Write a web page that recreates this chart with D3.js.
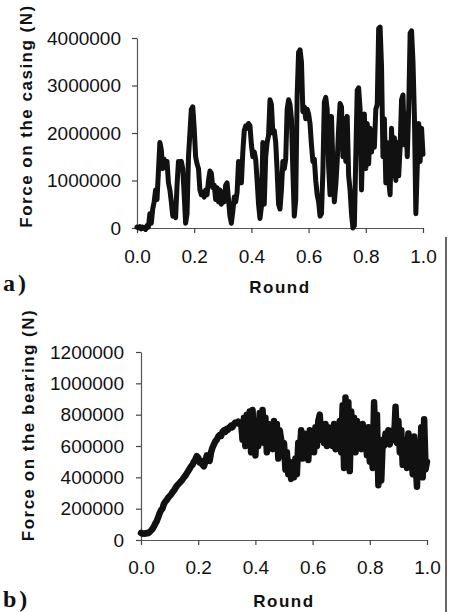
<!DOCTYPE html>
<html><head><meta charset="utf-8">
<script src="https://cdn.jsdelivr.net/npm/d3@7/dist/d3.min.js"></script>
<style>
body{margin:0;background:#fff;}
svg{display:block;}
.tick text{font-family:"Liberation Sans",Arial,sans-serif;font-size:19px;fill:#111;}
.title{font-family:"Liberation Sans",Arial,sans-serif;font-weight:bold;font-size:17px;fill:#111;letter-spacing:1.5px;}
.panel{font-family:"Liberation Serif","Times New Roman",serif;font-weight:bold;font-size:24px;fill:#111;letter-spacing:3px;}
</style></head>
<body><svg id="c" width="454" height="612"></svg>
<script>
const rounds = d3.range(201).map(i => i / 200);
const casingForce = [
 0.02e6,0.00e6,0.03e6,-0.02e6,0.02e6,0.00e6,-0.03e6,0.05e6,0.02e6,0.30e6,
 0.10e6,0.40e6,0.55e6,0.80e6,0.60e6,1.20e6,1.80e6,1.65e6,1.25e6,1.45e6,
 1.30e6,1.40e6,0.95e6,0.80e6,0.55e6,0.25e6,0.30e6,0.22e6,0.90e6,1.40e6,
 1.35e6,1.40e6,1.25e6,0.70e6,0.10e6,0.30e6,1.50e6,2.00e6,2.50e6,2.55e6,
 2.10e6,1.50e6,1.35e6,1.25e6,0.80e6,0.70e6,0.75e6,0.65e6,0.80e6,0.70e6,
 1.00e6,1.20e6,1.15e6,0.85e6,0.90e6,0.60e6,0.85e6,0.55e6,0.80e6,0.50e6,
 0.75e6,0.55e6,0.90e6,0.95e6,0.60e6,0.25e6,0.10e6,0.35e6,0.65e6,0.55e6,
 0.75e6,1.40e6,1.20e6,0.95e6,1.60e6,2.05e6,2.15e6,2.10e6,2.20e6,2.15e6,
 1.75e6,1.50e6,1.60e6,1.45e6,1.00e6,0.50e6,0.20e6,0.45e6,1.80e6,0.50e6,
 1.50e6,1.80e6,1.95e6,2.70e6,2.60e6,2.00e6,2.05e6,1.80e6,1.20e6,0.50e6,
 0.40e6,0.80e6,1.40e6,1.25e6,1.45e6,2.50e6,2.70e6,2.60e6,2.30e6,1.20e6,
 0.25e6,0.60e6,2.80e6,3.70e6,3.75e6,3.50e6,2.45e6,2.55e6,2.30e6,2.50e6,
 2.40e6,2.20e6,1.75e6,1.40e6,1.45e6,1.00e6,0.70e6,0.55e6,0.25e6,0.30e6,
 1.20e6,2.65e6,2.75e6,2.50e6,1.30e6,0.70e6,2.35e6,1.30e6,0.55e6,0.90e6,
 1.40e6,2.10e6,2.62e6,2.55e6,1.50e6,2.30e6,1.40e6,2.35e6,1.10e6,0.80e6,
 0.30e6,0.00e6,0.05e6,1.50e6,2.90e6,2.95e6,2.50e6,0.80e6,2.00e6,2.40e6,
 1.25e6,2.20e6,1.35e6,2.10e6,1.60e6,2.05e6,1.70e6,2.50e6,2.60e6,4.20e6,
 4.23e6,3.40e6,1.50e6,2.30e6,0.95e6,1.80e6,1.00e6,0.70e6,2.10e6,1.10e6,
 1.90e6,1.00e6,1.80e6,1.10e6,1.70e6,2.70e6,2.80e6,1.75e6,2.40e6,1.50e6,
 2.50e6,4.10e6,4.15e6,3.50e6,2.35e6,0.30e6,1.30e6,2.20e6,1.40e6,2.10e6,
 1.55e6];
const bearingForce = [
 45e3,40e3,42e3,40e3,45e3,43e3,50e3,60e3,70e3,85e3,
 105e3,120e3,145e3,170e3,190e3,200e3,230e3,245e3,255e3,270e3,
 280e3,290e3,305e3,315e3,330e3,345e3,355e3,365e3,375e3,385e3,
 400e3,410e3,425e3,440e3,455e3,470e3,480e3,500e3,515e3,535e3,
 525e3,495e3,505e3,480e3,470e3,500e3,540e3,520e3,505e3,560e3,
 590e3,610e3,630e3,640e3,660e3,670e3,665e3,690e3,700e3,690e3,
 710e3,705e3,720e3,730e3,720e3,740e3,750e3,745e3,755e3,740e3,
 750e3,640e3,780e3,600e3,800e3,660e3,820e3,560e3,830e3,620e3,
 540e3,760e3,600e3,810e3,640e3,830e3,620e3,780e3,560e3,740e3,
 620e3,720e3,580e3,760e3,600e3,740e3,520e3,700e3,640e3,560e3,
 620e3,450e3,560e3,420e3,500e3,390e3,470e3,400e3,520e3,420e3,
 620e3,540e3,700e3,520e3,680e3,560e3,660e3,510e3,700e3,580e3,
 680e3,560e3,720e3,600e3,760e3,800e3,640e3,720e3,620e3,740e3,
 600e3,720e3,640e3,690e3,600e3,740e3,580e3,700e3,620e3,760e3,
 560e3,860e3,460e3,910e3,640e3,880e3,440e3,820e3,600e3,780e3,
 560e3,760e3,620e3,720e3,580e3,740e3,600e3,680e3,540e3,720e3,
 500e3,620e3,460e3,880e3,560e3,800e3,350e3,640e3,380e3,620e3,
 600e3,680e3,640e3,700e3,610e3,660e3,700e3,640e3,850e3,620e3,
 760e3,560e3,700e3,480e3,640e3,600e3,460e3,680e3,520e3,640e3,
 420e3,660e3,500e3,340e3,620e3,460e3,720e3,400e3,770e3,450e3,
 500e3];
const xTicks = [0, 0.2, 0.4, 0.6, 0.8, 1.0];
const xTickLabels = ["0.0", "0.2", "0.4", "0.6", "0.8", "1.0"];
const casingTicks = [0, 1000000, 2000000, 3000000, 4000000];
const casingTickLabels = ["0", "1000000", "2000000", "3000000", "4000000"];
const bearingTicks = [0, 200000, 400000, 600000, 800000, 1000000, 1200000];
const bearingTickLabels = ["0", "200000", "400000", "600000", "800000", "1000000", "1200000"];

const svg = d3.select("#c");

function panel(cfg) {
  const x = d3.scaleLinear().domain([0, 1]).range([cfg.x0, cfg.x1]);
  const y = d3.scaleLinear().domain([0, cfg.yMax]).range([cfg.y0, cfg.y1]);
  const g = svg.append("g");
  g.append("g").attr("transform", `translate(0,${cfg.y0})`)
    .call(d3.axisBottom(x).tickValues(xTicks).tickFormat((d, i) => xTickLabels[i])
      .tickSize(5).tickSizeOuter(0).tickPadding(cfg.xPad));
  g.append("g").attr("transform", `translate(${cfg.x0},0)`)
    .call(d3.axisLeft(y).tickValues(cfg.ticks).tickFormat((d, i) => cfg.labels[i])
      .tickSize(5).tickSizeOuter(0).tickPadding(cfg.yPad));
  g.selectAll(".domain").attr("stroke", "#555").attr("stroke-width", 1.2);
  g.selectAll(".tick line").attr("stroke", "#444").attr("stroke-width", 1.2);
  const line = d3.line().x((d, i) => x(rounds[i])).y(d => y(d));
  g.append("path").datum(cfg.data).attr("d", line)
    .attr("fill", "none").attr("stroke", "#111").attr("stroke-width", cfg.sw)
    .attr("stroke-linejoin", "round").attr("stroke-linecap", "round");
  g.append("text").attr("class", "title")
    .attr("transform", `translate(${cfg.tx},${cfg.ty}) rotate(-90)`)
    .attr("text-anchor", "middle").text(cfg.title);
  g.append("text").attr("class", "title").attr("x", (cfg.x0 + cfg.x1) / 2).attr("y", cfg.ry)
    .attr("text-anchor", "middle").text("Round");
  g.append("text").attr("class", "panel").attr("x", 3).attr("y", cfg.py).text(cfg.tag);
}

panel({x0: 137, x1: 423, y0: 228, y1: 38, yMax: 4000000, ticks: casingTicks, labels: casingTickLabels,
  data: casingForce, sw: 5, xPad: 16.5, yPad: 11, tx: 32, ty: 116, ry: 293, py: 291,
  title: "Force on the casing (N)", tag: "a)"});
panel({x0: 141, x1: 427, y0: 540, y1: 352, yMax: 1200000, ticks: bearingTicks, labels: bearingTickLabels,
  data: bearingForce, sw: 6.5, xPad: 15.5, yPad: 12, tx: 34, ty: 425, ry: 607, py: 607,
  title: "Force on the bearing (N)", tag: "b)"});

svg.append("line").attr("x1", 446).attr("x2", 446).attr("y1", 237).attr("y2", 612)
  .attr("stroke", "#333").attr("stroke-width", 1.5);
</script></body></html>
